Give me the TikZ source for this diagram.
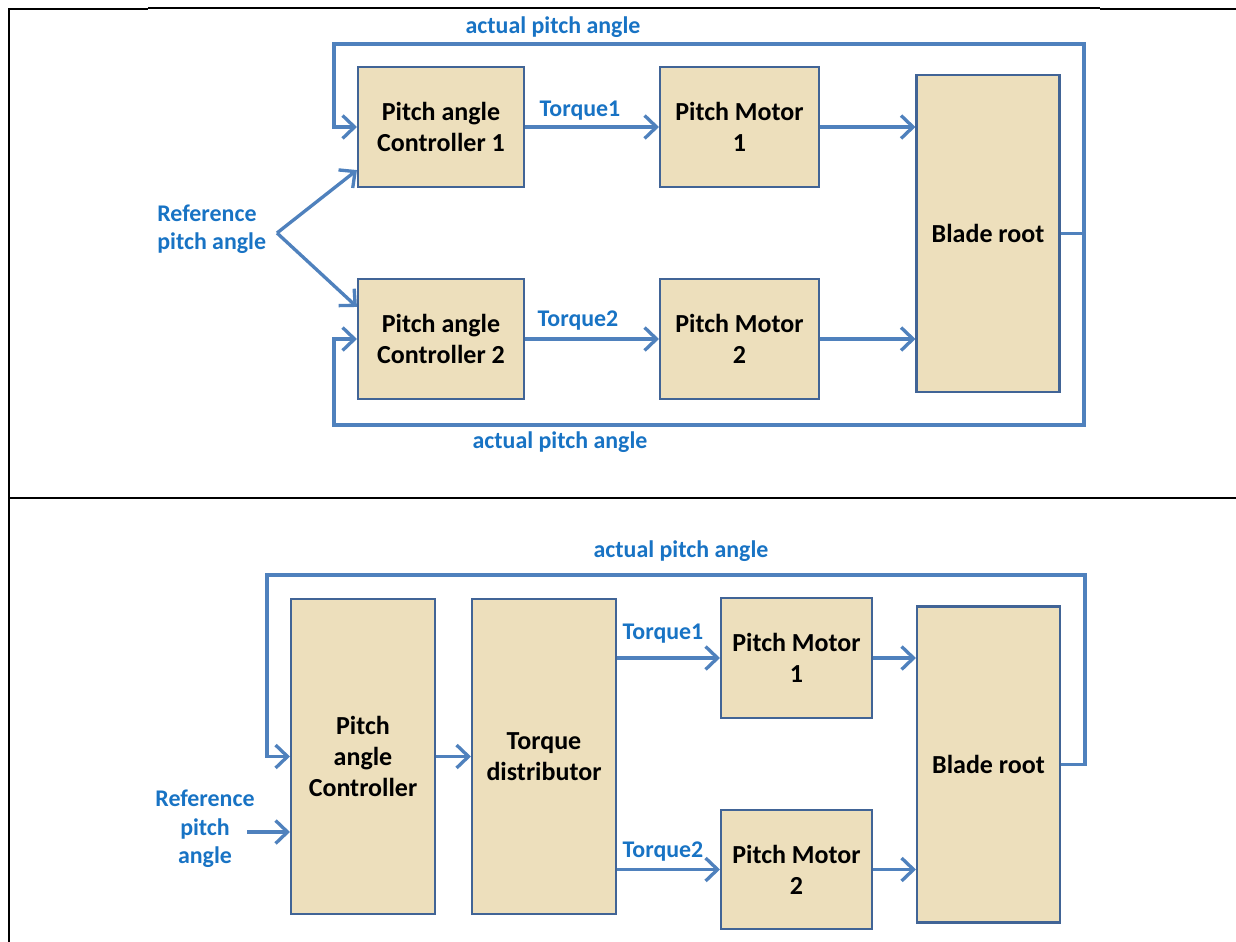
\documentclass[tikz,border=0pt]{standalone}
\usepackage{fontspec}
\setmainfont{Carlito}
\usetikzlibrary{arrows.meta,calc}
\definecolor{lineblue}{RGB}{79,129,189}
\definecolor{textblue}{RGB}{24,115,196}
\definecolor{boxborder}{RGB}{65,100,150}
\definecolor{boxfill}{RGB}{237,223,188}
\tikzset{
  blk/.style={draw=boxborder, fill=boxfill, line width=1.2pt, inner sep=0pt,
    align=center, font=\bfseries\fontsize{14.8}{17.6}\selectfont, text=black},
  lbl/.style={text=textblue, font=\bfseries\fontsize{13.6}{16}\selectfont, inner sep=0pt},
  conn/.style={draw=lineblue, line width=1.9pt},
  arr/.style={conn, -{Straight Barb[length=2.4mm,width=4.6mm]}},
  rule/.style={draw=black, line width=1.3pt},
  thinrule/.style={draw=black, line width=0.7pt}
}
\begin{document}
\begin{tikzpicture}[x=0.02cm,y=-0.02cm]
\useasboundingbox (0,0) rectangle (1236,942);
% table rules
\draw[rule] (9,9) -- (148,9);
\draw[thinrule] (148,8) -- (1100,8);
\draw[rule] (1100,9) -- (1236,9);
\draw[rule] (9,8.5) -- (9,942);
\draw[rule] (9,498) -- (1236,498);

% ---------- top diagram ----------
\node[blk, minimum width=166*0.02cm, minimum height=120*0.02cm] (C1) at (441,127) {Pitch angle\\Controller 1};
\node[blk, minimum width=159*0.02cm, minimum height=120*0.02cm] (M1) at (739.5,127) {Pitch Motor\\1};
\node[blk, minimum width=143*0.02cm, minimum height=317*0.02cm] (BR1) at (988,233.5) {Blade root};
\node[blk, minimum width=166*0.02cm, minimum height=120*0.02cm] (C2) at (441,339) {Pitch angle\\Controller 2};
\node[blk, minimum width=159*0.02cm, minimum height=120*0.02cm] (M2) at (739.5,339) {Pitch Motor\\2};

\coordinate (ref1) at (277,233);
\coordinate (fbR1) at (1084,44);
\coordinate (fbTL1) at (334,44);
\coordinate (fbBL1) at (334,425);

\node[lbl, anchor=west, align=left] (refA) at (157,229) {Reference\\pitch angle};
\node[lbl] (act1) at (553,27) {actual pitch angle};
\node[lbl] (act2) at (560,442) {actual pitch angle};
\node[lbl] (tq1) at (580,111) {Torque1};
\node[lbl] (tq2) at (578,321) {Torque2};

\draw[arr] (C1.east) -- (M1.west);
\draw[arr] (C2.east) -- (M2.west);
\draw[arr] (M1.east) -- (BR1.west |- M1.east);
\draw[arr] (M2.east) -- (BR1.west |- M2.east);
\draw[arr] (ref1) -- ($(C1.south west)+(0,-18)$);
\draw[arr] (ref1) -- ($(C2.north west)+(0,29)$);
\draw[arr] (BR1.east) -- (fbR1 |- BR1.east) |- (fbTL1) |- (C1.west);
\draw[arr] (BR1.east) -- (fbR1 |- BR1.east) |- (fbBL1) |- (C2.west);

% ---------- bottom diagram ----------
\node[blk, minimum width=144*0.02cm, minimum height=315*0.02cm] (PC) at (363,756.5) {Pitch\\angle\\Controller};
\node[blk, minimum width=144*0.02cm, minimum height=315*0.02cm] (TD) at (544,756.5) {Torque\\distributor};
\node[blk, minimum width=151*0.02cm, minimum height=120*0.02cm] (PM1) at (796.5,658) {Pitch Motor\\1};
\node[blk, minimum width=151*0.02cm, minimum height=119*0.02cm] (PM2) at (796.5,869.5) {Pitch Motor\\2};
\node[blk, minimum width=143*0.02cm, minimum height=316*0.02cm] (BR2) at (988.5,764.5) {Blade root};

\coordinate (refB) at (247,832);
\coordinate (fbR2) at (1085,575);
\coordinate (fbL2) at (267,575);

\node[lbl, align=center, font=\bfseries\fontsize{13.6}{16.3}\selectfont] (refBt) at (205,829) {Reference\\pitch\\angle};
\node[lbl] (act3) at (681,551) {actual pitch angle};
\node[lbl] (tq3) at (663,634) {Torque1};
\node[lbl] (tq4) at (663,852) {Torque2};

\draw[arr] (refB) -- (PC.west |- refB);
\draw[arr] (PC.east) -- (TD.west);
\draw[arr] (TD.east |- PM1.west) -- (PM1.west);
\draw[arr] (TD.east |- PM2.west) -- (PM2.west);
\draw[arr] (PM1.east) -- (BR2.west |- PM1.east);
\draw[arr] (PM2.east) -- (BR2.west |- PM2.east);
\draw[arr] (BR2.east) -- (fbR2 |- BR2.east) |- (fbL2) |- (PC.west);
\end{tikzpicture}
\end{document}
